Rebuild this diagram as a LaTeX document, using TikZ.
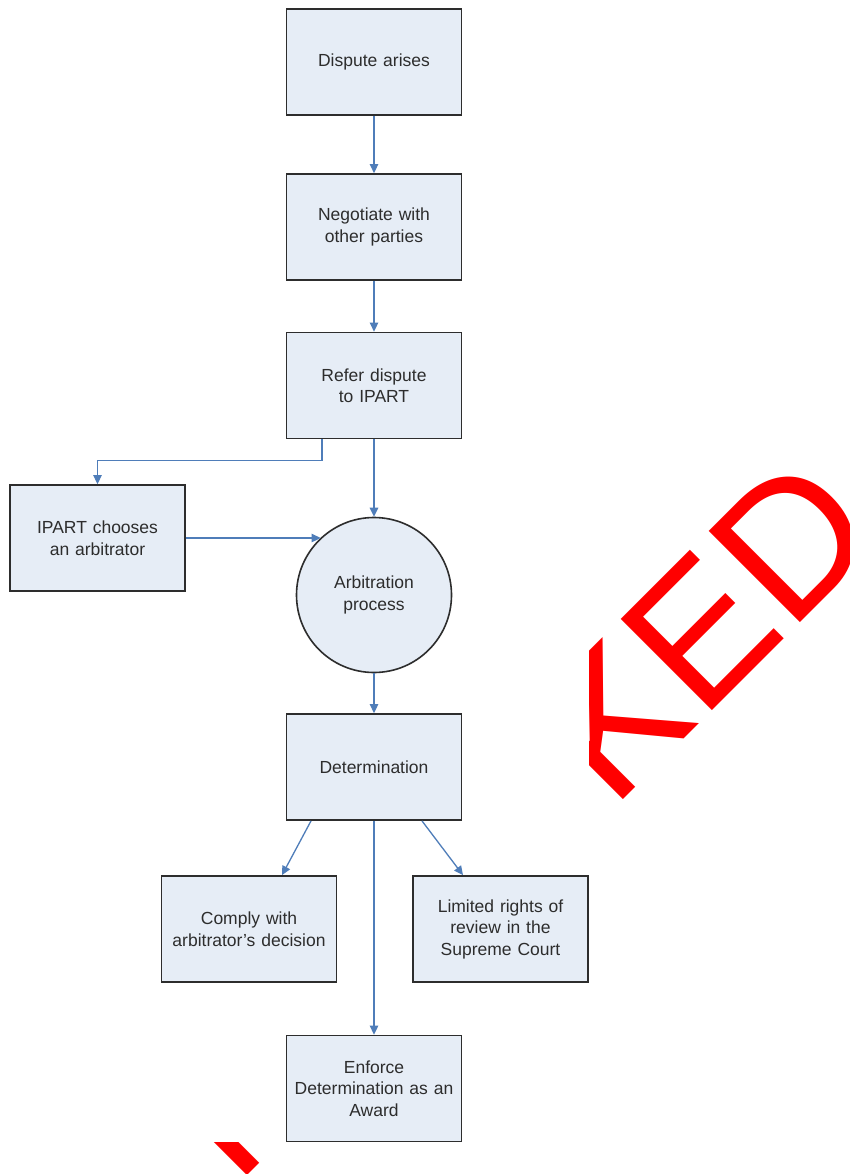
\documentclass[tikz,border=0pt]{standalone}
\usepackage{fontspec}
\setmainfont{Liberation Sans}
\usetikzlibrary{arrows.meta,calc}
\definecolor{boxfill}{RGB}{230,237,246}
\definecolor{boxline}{RGB}{45,45,45}
\definecolor{conncol}{RGB}{79,125,185}
\definecolor{txtcol}{RGB}{45,45,45}
\definecolor{wmred}{RGB}{255,0,0}
\tikzset{
  stepbox/.style={draw=boxline, line width=1.8pt, fill=boxfill, minimum width=175pt, minimum height=106pt, text width=165pt, align=center, inner sep=0pt, text=txtcol, font=\fontsize{17.5}{21.5}\selectfont},
  procircle/.style={circle, draw=boxline, line width=1.6pt, fill=boxfill, minimum size=155pt, align=center, inner sep=0pt, text=txtcol, font=\fontsize{17.5}{21.5}\selectfont},
  conn/.style={draw=conncol, line width=1.3pt, -{Triangle[width=8.5pt,length=9pt]}},
  wmark/.style={text=wmred, font=\fontsize{187.5}{190}\selectfont, inner sep=0pt, outer sep=0pt, anchor=base west, rotate=45}
}
\begin{document}
\begin{tikzpicture}[x=1pt,y=-1pt]
\useasboundingbox (0,0) rectangle (850,1174);
\clip (0,0) rectangle (850,1174);
% watermark, mostly hidden behind the diagram's white ground
\node[wmark] (wm) at (236.9,1186.1) {REVOKED};
\fill[white] (0,0) rectangle (589,1142);
% nodes
\node[stepbox] (d1) at (374,62) {Dispute arises};
\node[stepbox] (d2) at (374,227) {Negotiate with\\other parties};
\node[stepbox] (d3) at (374,385.5) {Refer dispute\\to IPART};
\node[stepbox] (ip) at (97.5,538) {IPART chooses\\an arbitrator};
\node[procircle] (circ) at (374,595) {Arbitration\\process};
\node[stepbox] (det) at (374,767) {Determination};
\node[stepbox] (comply) at (249,929) {Comply with\\arbitrator’s decision};
\node[stepbox] (limited) at (500.5,929) {Limited rights of\\review in the\\Supreme Court};
\node[stepbox] (enforce) at (374,1088.5) {Enforce\\Determination as an\\Award};
% connectors
\draw[conn] (d1) -- (d2);
\draw[conn] (d2) -- (d3);
\draw[conn] (d3.south) -- (circ.north);
\draw[conn] ([xshift=-52pt]d3.south) -- ++(0,21) -| (ip.north);
\draw[conn] (ip.east) -- (ip.east -| circ.133.7);
\draw[conn] (circ.south) -- (det.north);
\draw[conn] ([xshift=-63pt]det.south) -- ([xshift=33pt]comply.north);
\draw[conn] ([xshift=48pt]det.south) -- ([xshift=-37.5pt]limited.north);
\draw[conn] (det) -- (enforce);
\end{tikzpicture}
\end{document}
